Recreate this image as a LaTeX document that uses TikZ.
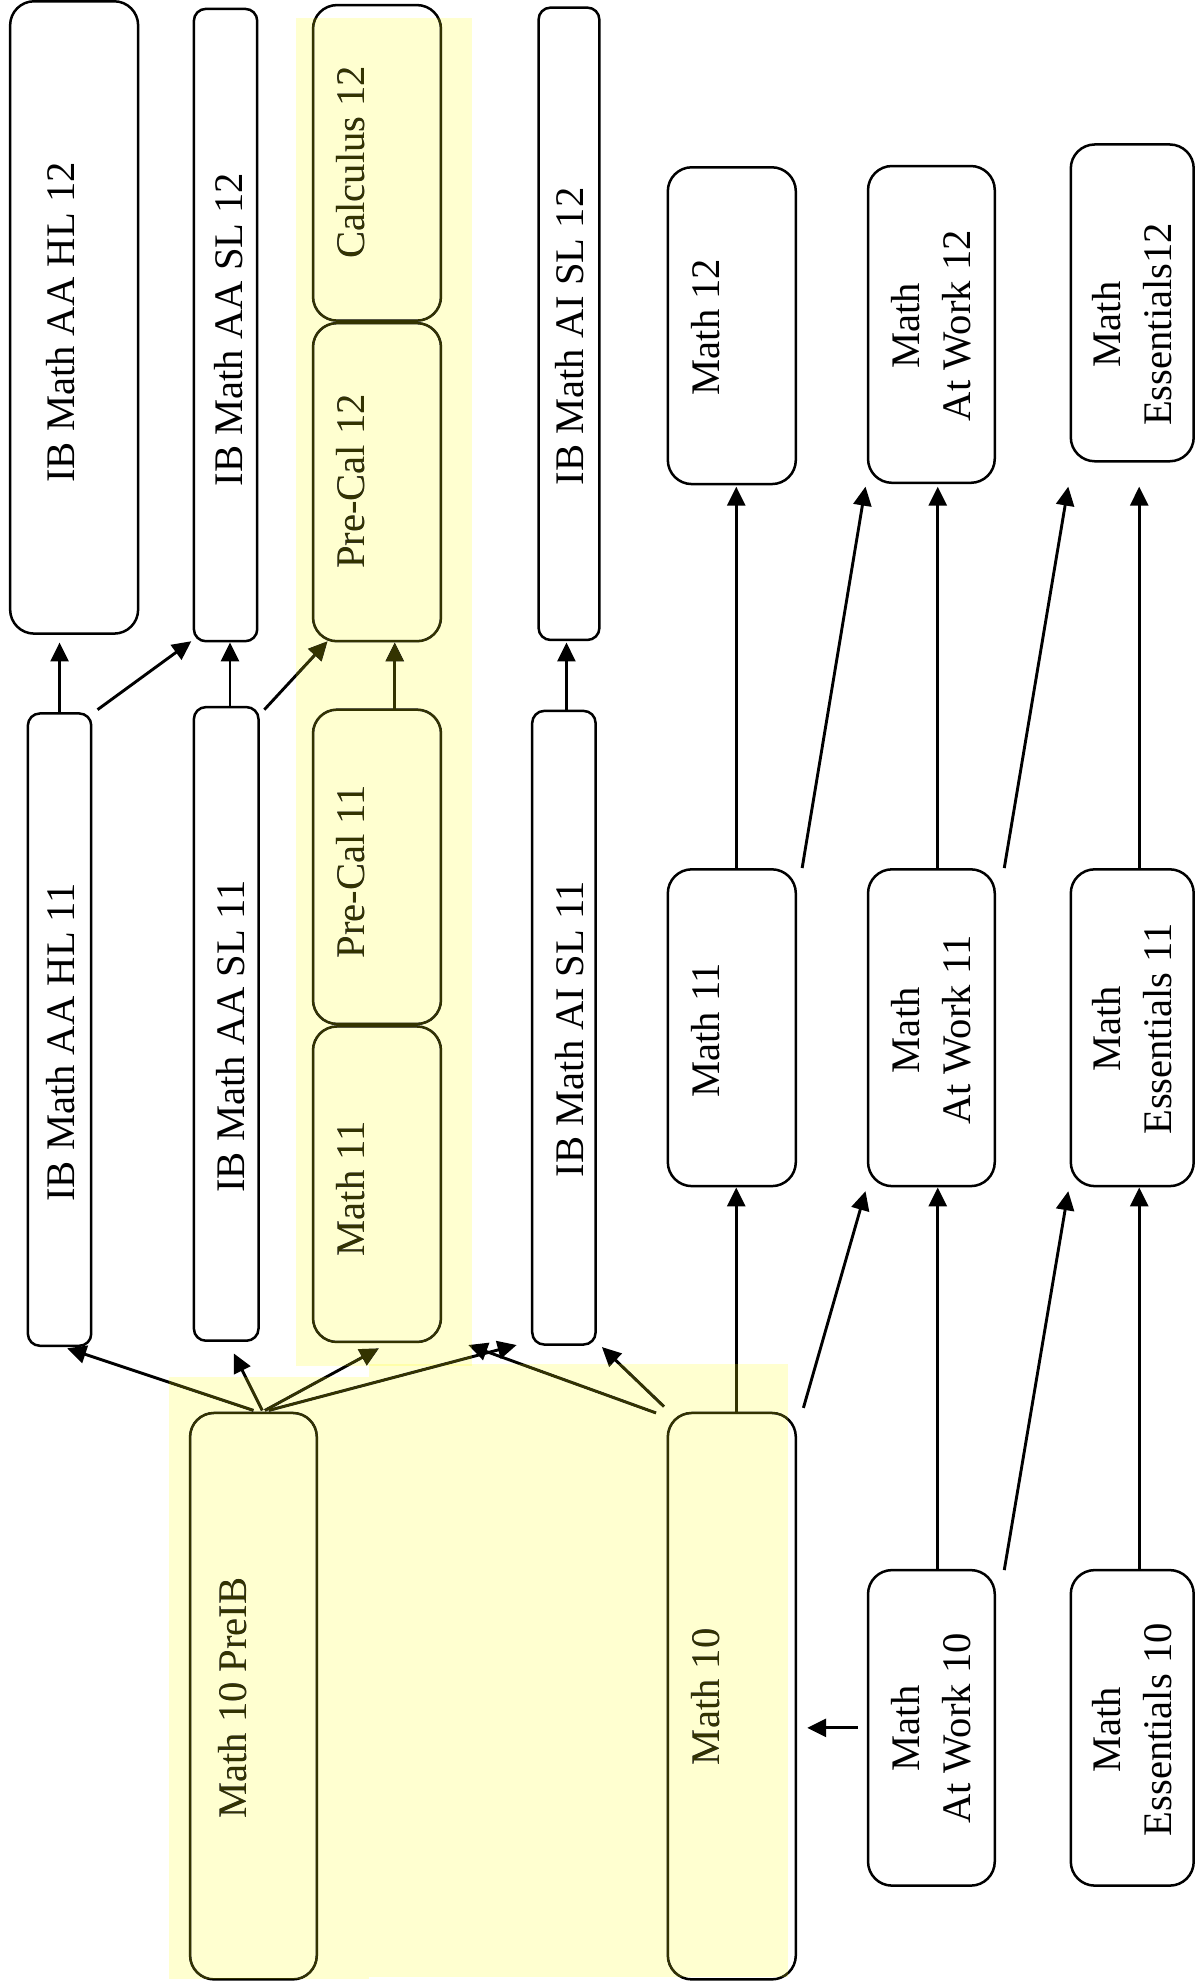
\documentclass[tikz,border=0pt]{standalone}
\usepackage{fontspec}
\setmainfont{Liberation Serif}
\usetikzlibrary{arrows.meta,fit,calc}
\definecolor{hiyellow}{RGB}{255,255,208}
\definecolor{hiolive}{RGB}{51,51,0}
\begin{document}
\begin{tikzpicture}[x=0.6336pt,y=-0.6336pt,
  box/.style={draw,line width=1.25pt,rounded corners=12pt,inner sep=0pt,outer sep=0pt},
  slim/.style={box,rounded corners=6pt},
  txt/.style={rotate=90,align=center,inner sep=0pt,font=\fontsize{20.3pt}{25.5pt}\selectfont},
  arr/.style={line width=1.45pt,-{Triangle[length=9.5pt,width=9pt]}},
  band/.style={fill=hiyellow,blend mode=multiply},
  bandink/.style={fill=hiolive,blend mode=lighten}]
\fill[white] (0,0) rectangle (943.05,1568.8);
\useasboundingbox (0,0) rectangle (943.05,1568.8);

% ---- grade 12 ----
\node[box,fit={(8,1)(109,500)}] (hl12) {};
\node[slim,fit={(153,7)(203,506)}] (aasl12) {};
\node[box,fit={(247,4)(348,253)}] (calc12) {};
\node[box,fit={(247,255)(348,506)}] (pc12) {};
\node[slim,fit={(425,6)(473,505)}] (aisl12) {};
\node[box,fit={(527,132)(628,382)}] (m12) {};
\node[box,fit={(685,131)(785,381)}] (w12) {};
\node[box,fit={(845,114)(942,364)}] (e12) {};

% ---- grade 11 ----
\node[slim,fit={(22,563)(72,1062)}] (hl11) {};
\node[slim,fit={(153,558)(204,1058)}] (aasl11) {};
\node[box,fit={(247,560)(348,808)}] (pc11) {};
\node[box,fit={(247,810)(348,1059)}] (m11l) {};
\node[slim,fit={(420,561)(470,1061)}] (aisl11) {};
\node[box,fit={(527,686)(628,936)}] (m11) {};
\node[box,fit={(685,686)(785,936)}] (w11) {};
\node[box,fit={(845,686)(942,936)}] (e11) {};

% ---- grade 10 ----
\node[box,fit={(150,1115)(250,1562)}] (preib) {};
\node[box,fit={(527,1115)(628,1562)}] (m10) {};
\node[box,fit={(685,1239)(785,1488)}] (w10) {};
\node[box,fit={(845,1239)(942,1488)}] (e10) {};

% ---- texts ----
\node[txt] (hl12t) at (47.7,254.5) {IB Math AA HL 12};
\node[txt] (aasl12t) at (180.6,260) {IB Math AA SL 12};
\node[txt] (calc12t) at (277,128) {Calculus 12};
\node[txt] (pc12t) at (277,380) {Pre-Cal 12};
\node[txt] (aisl12t) at (449.5,265.5) {IB Math AI SL 12};
\node[txt] (m12t) at (557,258) {Math 12};
\node[txt] (w12t) at (734.5,257) {Math\\At Work 12};
\node[txt] (e12t) at (893.5,256) {Math\\Essentials12};

\node[txt] (hl11t) at (47.5,822.5) {IB Math AA HL 11};
\node[txt] (aasl11t) at (182,818) {IB Math AA SL 11};
\node[txt] (pc11t) at (277,688) {Pre-Cal 11};
\node[txt] (m11lt) at (277,938) {Math 11};
\node[txt] (aisl11t) at (449.5,812) {IB Math AI SL 11};
\node[txt] (m11t) at (557,813) {Math 11};
\node[txt] (w11t) at (734.5,813) {Math\\At Work 11};
\node[txt] (e11t) at (893.5,812) {Math\\Essentials 11};

\node[txt] (preibt) at (183.7,1340) {Math 10 PreIB};
\node[txt] (m10t) at (557,1339) {Math 10};
\node[txt] (w10t) at (734.5,1364) {Math\\At Work 10};
\node[txt] (e10t) at (893.5,1365) {Math\\Essentials 10};

% ---- arrows 11 -> 12 (left) ----
\draw[arr] (hl11.north) -- ($(hl11.north |- hl12.south)+(0,7)$);
\draw[arr] ($(hl11.north east)+(5,-3)$) -- ($(aasl12.south west)+(-2,0)$);
\draw[arr] ($(aasl11.north)+(3,0)$) -- ($(aasl11.north |- aasl12.south)+(3,1)$);
\draw[arr] ($(aasl11.north east)+(4.6,2)$) -- ($(pc12.south west)+(11.5,0)$);
\draw[arr] ($(pc11.north)+(14,0)$) -- ($(pc12.south)+(14,1)$);
\draw[arr] ($(aisl11.north)+(2,0)$) -- ($(aisl11.north |- aisl12.south)+(2,2)$);

% ---- arrows 11 -> 12 (right) ----
\draw[arr] ($(m11.north)+(3.5,0)$) -- ($(m12.south)+(3.5,2)$);
\draw[arr] ($(m11.north east)+(5,-1)$) -- ($(w12.south west)+(-2,3)$);
\draw[arr] ($(w11.north)+(5,0)$) -- ($(w12.south)+(5,3)$);
\draw[arr] ($(w11.north east)+(7.5,-1)$) -- ($(e12.south west)+(-2,20)$);
\draw[arr] ($(e11.north)+(5.5,0)$) -- ($(e12.south)+(5.5,20)$);

% ---- arrows 10 -> 11 (right) ----
\draw[arr] ($(m10.north)+(3.5,0)$) -- ($(m11.south)+(3.5,1)$);
\draw[arr] ($(m10.north east)+(6,-4)$) -- ($(w11.south west)+(-2,4)$);
\draw[arr] ($(w10.north)+(5,0)$) -- ($(w11.south)+(5,1)$);
\draw[arr] ($(w10.north east)+(7.5,0)$) -- ($(e11.south west)+(-2,4)$);
\draw[arr] ($(e10.north)+(5.5,0)$) -- ($(e11.south)+(5.5,1)$);
\draw[arr] ($(w10.west)+(-8,0)$) -- ($(w10.west -| m10.east)+(9,0)$);

% ---- arrows 10 -> 11 (left) ----
\draw[arr] ($(preib.north)+(0,-2)$) -- ($(hl11.south)+(6,2)$);
\draw[arr] ($(preib.north)+(7,-2)$) -- ($(aasl11.south)+(6,10)$);
\draw[arr] ($(preib.north)+(9,-2)$) -- ($(m11l.south)+(1.5,5)$);
\draw[arr] ($(preib.north)+(12,-2)$) -- ($(aisl11.south)+(-37.3,0.4)$);
\draw[arr] ($(m10.north west)+(-9.3,0)$) -- ($(aisl11.south)+(-75.4,0.4)$);
\draw[arr] ($(m10.north west)+(-3,-5)$) -- ($(aisl11.south east)+(5,2)$);

% ---- highlight bands ----
\fill[band] (233.5,14) rectangle (372.5,1078);
\fill[band] (133,1086.5) rectangle (291,1562);
\fill[band] (291,1076) rectangle (622,1560);
\fill[bandink] (233.5,14) rectangle (372.5,1078);
\fill[bandink] (133,1086.5) rectangle (291,1562);
\fill[bandink] (291,1076) rectangle (622,1560);
\end{tikzpicture}
\end{document}
